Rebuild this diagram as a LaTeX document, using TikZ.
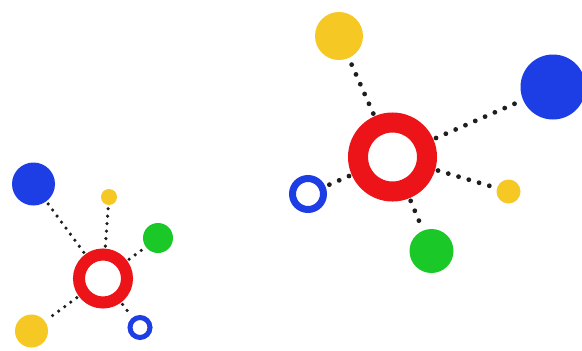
\documentclass[tikz,border=0pt]{standalone}
\definecolor{cred}{RGB}{236,20,24}
\definecolor{cblue}{RGB}{28,62,228}
\definecolor{cyellow}{RGB}{246,200,36}
\definecolor{cgreen}{RGB}{26,200,40}
\definecolor{cdot}{RGB}{30,30,30}
\tikzset{
  disc/.style={circle,inner sep=0pt,outer sep=0pt,minimum size=#1},
  ring/.style={circle,draw,inner sep=0pt,minimum size=#1},
  bigdots/.style={draw=cdot,line width=4.8pt,line cap=round,dash pattern=on 0pt off 10.7pt,shorten <=3pt,shorten >=3pt},
  smalldots/.style={draw=cdot,line width=3.6pt,line cap=round,dash pattern=on 0pt off 7.5pt,shorten <=2.5pt,shorten >=2.5pt}
}
\begin{document}
\begin{tikzpicture}[x=1pt,y=-1pt]
\useasboundingbox[fill=white] (0,0) rectangle (582,351);
% right cluster
\node[ring=69pt,draw=cred,line width=20pt] (R) at (392.5,157) {};
\node[disc=48pt,fill=cyellow] (RY) at (339,36) {};
\node[disc=65pt,fill=cblue] (RB) at (553,87) {};
\node[ring=31pt,draw=cblue,line width=7pt] (Rb) at (308,194) {};
\node[disc=24pt,fill=cyellow] (Ry) at (508.5,191.5) {};
\node[disc=44pt,fill=cgreen] (RG) at (431.5,251) {};
\draw[bigdots] (R) -- (RY);
\draw[bigdots] (R) -- (RB);
\draw[bigdots] (R) -- (Rb);
\draw[bigdots] (R) -- (Ry);
\draw[bigdots] (R) -- (RG);
% left cluster
\node[ring=48pt,draw=cred,line width=12pt] (L) at (103,278.5) {};
\node[disc=43pt,fill=cblue] (LB) at (33.5,184) {};
\node[disc=16pt,fill=cyellow] (Ly) at (109,197) {};
\node[disc=30pt,fill=cgreen] (LG) at (158,238) {};
\node[disc=33pt,fill=cyellow] (LY) at (31.5,331) {};
\node[ring=20pt,draw=cblue,line width=5pt] (Lb) at (140,327.5) {};
\draw[smalldots] (L) -- (LB);
\draw[smalldots] (L) -- (Ly);
\draw[smalldots] (L) -- (LG);
\draw[smalldots] (L) -- (LY);
\draw[smalldots] (L) -- (Lb);
\end{tikzpicture}
\end{document}
